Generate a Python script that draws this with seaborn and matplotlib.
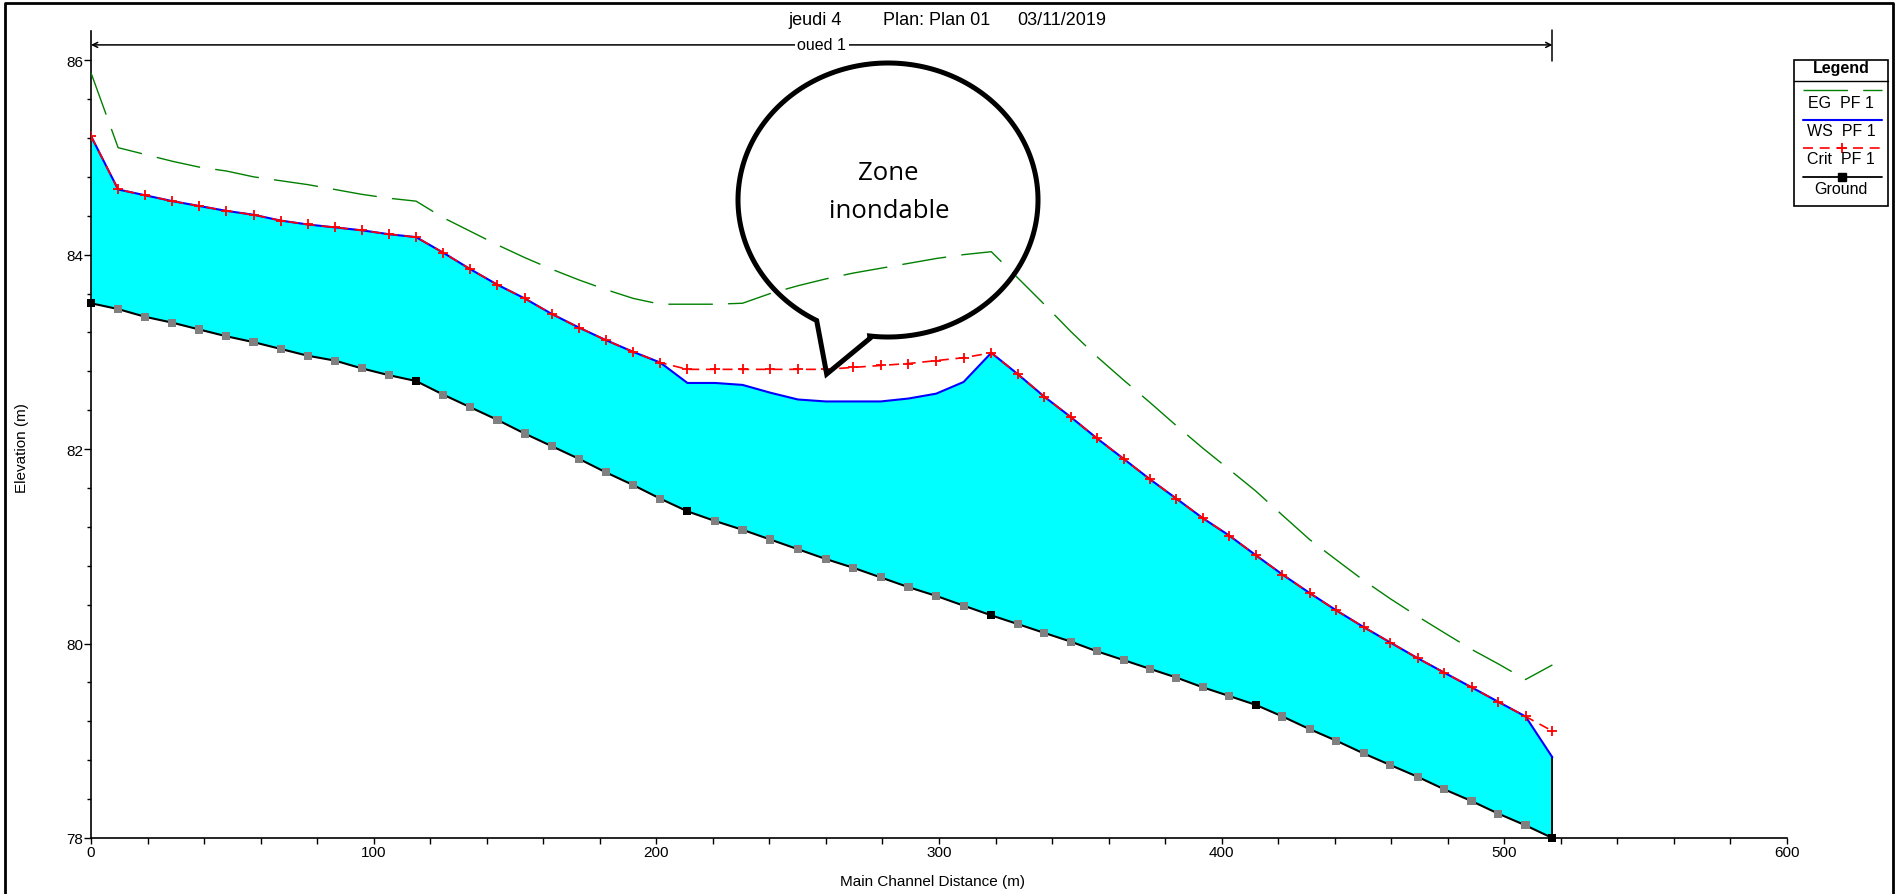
import numpy as np
import pandas as pd
import matplotlib
matplotlib.use("Agg")
import matplotlib.pyplot as plt
import seaborn as sns
from matplotlib.lines import Line2D
from matplotlib.patches import Rectangle, Polygon
from matplotlib.ticker import MultipleLocator

# ---------------- data ----------------
stations = [0.0, 9.6, 19.2, 28.8, 38.3, 47.9, 57.5, 67.1, 76.7, 86.3, 95.8, 105.4, 115.0,
            124.6, 134.2, 143.8, 153.4, 163.0, 172.6, 182.2, 191.8, 201.4, 211.0,
            220.8, 230.5, 240.3, 250.1, 259.9, 269.6, 279.4, 289.2, 299.0, 308.7, 318.5,
            327.9, 337.2, 346.6, 355.9, 365.3, 374.6, 384.0, 393.3, 402.7, 412.0,
            421.5, 431.1, 440.6, 450.2, 459.7, 469.3, 478.8, 488.4, 497.9, 507.5, 517.0]

ground = [83.50, 83.44, 83.36, 83.30, 83.23, 83.16, 83.10, 83.03, 82.96, 82.91, 82.83, 82.76, 82.70,
          82.56, 82.43, 82.30, 82.16, 82.03, 81.90, 81.76, 81.63, 81.49, 81.36,
          81.26, 81.17, 81.07, 80.97, 80.87, 80.78, 80.68, 80.58, 80.49, 80.39, 80.29,
          80.20, 80.11, 80.02, 79.92, 79.83, 79.74, 79.65, 79.55, 79.46, 79.37,
          79.25, 79.12, 79.00, 78.87, 78.75, 78.63, 78.50, 78.38, 78.25, 78.13, 78.00]

ws_pf1 = [85.22, 84.67, 84.61, 84.55, 84.50, 84.45, 84.41, 84.35, 84.31, 84.28, 84.25, 84.21, 84.18,
          84.02, 83.85, 83.69, 83.55, 83.39, 83.25, 83.12, 83.00, 82.89, 82.68,
          82.68, 82.66, 82.58, 82.51, 82.49, 82.49, 82.49, 82.52, 82.57, 82.69, 82.99,
          82.77, 82.54, 82.33, 82.11, 81.90, 81.69, 81.49, 81.29, 81.11, 80.91,
          80.71, 80.52, 80.34, 80.17, 80.01, 79.85, 79.70, 79.55, 79.40, 79.25, 78.83]

crit_pf1 = [85.22, 84.67, 84.61, 84.55, 84.50, 84.45, 84.41, 84.35, 84.31, 84.28, 84.25, 84.21, 84.18,
            84.02, 83.85, 83.69, 83.55, 83.39, 83.25, 83.12, 83.00, 82.89, 82.82,
            82.82, 82.82, 82.82, 82.82, 82.82, 82.84, 82.86, 82.88, 82.91, 82.94, 82.99,
            82.77, 82.54, 82.33, 82.11, 81.90, 81.69, 81.49, 81.29, 81.11, 80.91,
            80.71, 80.52, 80.34, 80.17, 80.01, 79.85, 79.70, 79.55, 79.40, 79.25, 79.10]

eg_pf1 = [85.87, 85.10, 85.03, 84.96, 84.90, 84.86, 84.80, 84.76, 84.72, 84.67, 84.62, 84.58, 84.55,
          84.38, 84.24, 84.10, 83.97, 83.85, 83.74, 83.64, 83.55, 83.49, 83.49,
          83.49, 83.50, 83.60, 83.68, 83.75, 83.81, 83.86, 83.91, 83.96, 84.00, 84.03,
          83.76, 83.49, 83.21, 82.95, 82.71, 82.48, 82.24, 82.01, 81.79, 81.57,
          81.32, 81.07, 80.86, 80.65, 80.46, 80.28, 80.11, 79.94, 79.79, 79.63, 79.78]

# 'xs' = surveyed cross section (black marker), 'int' = interpolated section (grey marker)
section_kind = (["xs"] + ["int"] * 11 + ["xs"] + ["int"] * 9 + ["xs"] + ["int"] * 10 + ["xs"]
                + ["int"] * 9 + ["xs"] + ["int"] * 10 + ["xs"])

title_parts = ["jeudi 4", "Plan: Plan 01", "03/11/2019"]
reach_name = "oued 1"
legend_labels = ["EG  PF 1", "WS  PF 1", "Crit  PF 1", "Ground"]
x_label = "Main Channel Distance (m)"
y_label = "Elevation (m)"
bubble_lines = ["Zone", "inondable"]

df = pd.DataFrame({"station": stations, "ground": ground, "ws": ws_pf1,
                   "crit": crit_pf1, "eg": eg_pf1, "kind": section_kind})

# ---------------- style ----------------
sns.set_theme(style="white")
plt.rcParams["font.family"] = ["Liberation Sans", "DejaVu Sans"]

W, H = 1900, 895
fig = plt.figure(figsize=(W / 100, H / 100), dpi=100)
ax = fig.add_axes([91 / W, (H - 839) / H, 1696 / W, 807 / H])

C_EG, C_WS, C_CRIT, C_FILL = "#008000", "#0000FF", "#FF0000", "#00FFFF"
EG_DASH = (0, (32, 11))
CRIT_DASH = (0, (6, 4))

ax.fill_between(df["station"], df["ground"], df["ws"], color=C_FILL, linewidth=0, zorder=1)

sns.lineplot(data=df, x="station", y="ground", color="black", linewidth=1.5, sort=False,
             errorbar=None, legend=False, ax=ax, zorder=3)
ax.plot([df["station"].iloc[-1]] * 2, [df["ground"].iloc[-1], df["ws"].iloc[-1]],
        color="black", linewidth=1.3, zorder=3)
sns.scatterplot(data=df[df["kind"] == "int"], x="station", y="ground", marker="s", s=34,
                color="#808080", edgecolor="none", legend=False, ax=ax, zorder=4)
sns.scatterplot(data=df[df["kind"] == "xs"], x="station", y="ground", marker="s", s=34,
                color="black", edgecolor="none", legend=False, ax=ax, zorder=4, clip_on=False)

sns.lineplot(data=df, x="station", y="ws", color=C_WS, linewidth=1.5, sort=False,
             errorbar=None, legend=False, ax=ax, zorder=5)
sns.lineplot(data=df, x="station", y="eg", color=C_EG, linewidth=1.0, sort=False,
             errorbar=None, legend=False, ax=ax, zorder=6, linestyle=EG_DASH)
sns.lineplot(data=df, x="station", y="crit", color=C_CRIT, linewidth=1.2, sort=False,
             errorbar=None, legend=False, ax=ax, zorder=7, linestyle=CRIT_DASH,
             marker="+", markersize=7.5, markeredgewidth=1.3, markeredgecolor=C_CRIT)

# ---------------- axes ----------------
ax.set_xlim(0, 600)
ax.set_ylim(78, 86.3)
ax.xaxis.set_major_locator(MultipleLocator(100))
ax.xaxis.set_minor_locator(MultipleLocator(20))
ax.yaxis.set_major_locator(MultipleLocator(2))
ax.yaxis.set_minor_locator(MultipleLocator(0.4))
for s in ["top", "right"]:
    ax.spines[s].set_visible(False)
for s in ["left", "bottom"]:
    ax.spines[s].set_color("black")
    ax.spines[s].set_linewidth(1.2)
ax.tick_params(which="both", direction="out", color="black", labelcolor="black",
               labelsize=11, bottom=True, left=True)
ax.tick_params(axis="y", which="major", length=5, width=1, pad=0.5)
ax.tick_params(axis="y", which="minor", length=2.7, width=1)
ax.tick_params(axis="x", which="both", length=4, width=1, pad=1)
ax.set_xlabel("")
ax.set_ylabel("")
ax.grid(False)

def fx(px):
    return px / W

def fy(py):
    return 1 - py / H

fig.text(fx(933), fy(882), x_label, ha="center", va="center", fontsize=11, color="black")
fig.text(fx(22), fy(448), y_label, ha="center", va="center", rotation=90, fontsize=11, color="black")

# title
for txt, cx in zip(title_parts, [815.5, 937, 1062]):
    fig.text(fx(cx), fy(25), txt, ha="center", va="baseline", fontsize=13, color="black")

# reach arrow
y_arrow = 86.157
x0, x1 = df["station"].iloc[0], df["station"].iloc[-1]
ax.annotate("", xy=(x0, y_arrow), xytext=(x1, y_arrow),
            arrowprops=dict(arrowstyle="<->", color="black", lw=1.1, shrinkA=0, shrinkB=0,
                            mutation_scale=9),
            annotation_clip=False, zorder=8)
ax.plot([x1, x1], [85.99, 86.31], color="black", linewidth=1.1, clip_on=False, zorder=8)
ax.text((x0 + x1) / 2, y_arrow, reach_name, ha="center", va="center", fontsize=11.5,
        color="black", zorder=9,
        bbox=dict(boxstyle="square,pad=0.15", facecolor="white", edgecolor="none"))

# ---------------- legend box ----------------
fig.add_artist(Rectangle((fx(1794), fy(207)), (1888 - 1794) / W, (207 - 61) / H,
                         transform=fig.transFigure, facecolor="white", edgecolor="black",
                         linewidth=1.2, zorder=10))
fig.add_artist(Line2D([fx(1794), fx(1888)], [fy(82)] * 2, transform=fig.transFigure,
                      color="black", linewidth=1.0, zorder=11))
fig.text(fx(1841), fy(69), "Legend", ha="center", va="center", fontsize=11.5,
         fontweight="bold", color="black", zorder=11)
lx = [fx(1803), fx(1882)]
fig.add_artist(Line2D(lx, [fy(91)] * 2, transform=fig.transFigure, color=C_EG,
                      linewidth=1.0, linestyle=EG_DASH, zorder=11))
fig.add_artist(Line2D(lx, [fy(121)] * 2, transform=fig.transFigure, color=C_WS,
                      linewidth=1.5, zorder=11))
fig.add_artist(Line2D(lx, [fy(149)] * 2, transform=fig.transFigure, color=C_CRIT,
                      linewidth=1.2, linestyle=CRIT_DASH, zorder=11))
fig.add_artist(Line2D([fx(1842)], [fy(149)], transform=fig.transFigure, color=C_CRIT,
                      marker="+", markersize=7.5, markeredgewidth=1.3, linestyle="none", zorder=12))
fig.add_artist(Line2D(lx, [fy(178)] * 2, transform=fig.transFigure, color="black",
                      linewidth=1.3, zorder=11))
fig.add_artist(Line2D([fx(1842)], [fy(178)], transform=fig.transFigure, color="black",
                      marker="s", markersize=6, linestyle="none", zorder=12))
for lab, py in zip(legend_labels, [103, 132, 160, 190]):
    fig.text(fx(1841), fy(py), lab, ha="center", va="center", fontsize=11.5,
             color="black", zorder=12)

# ---------------- speech bubble ----------------
cx, cy, a, b = 888, H - 201, 150, 137
t = np.radians(np.linspace(263, 601.6, 300))
bx = cx + a * np.cos(t)
by = cy + b * np.sin(t)
tail_x = [826.7, 870]
tail_y = [H - 375, H - 339.3]
px = np.concatenate([bx, tail_x]) / W
py = np.concatenate([by, tail_y]) / H
fig.add_artist(Polygon(np.column_stack([px, py]), closed=True, transform=fig.transFigure,
                       facecolor="none", edgecolor="black", linewidth=3.6,
                       joinstyle="miter", zorder=9))
fig.text(fx(888.5), fy(173), bubble_lines[0], ha="center", va="center", fontsize=18.5,
         family=["Open Sans", "DejaVu Sans"], color="black", zorder=10)
fig.text(fx(889), fy(211), bubble_lines[1], ha="center", va="center", fontsize=18.5,
         family=["Open Sans", "DejaVu Sans"], color="black", zorder=10)

# outer frame
fig.add_artist(Line2D([fx(5), fx(5), fx(1893), fx(1893)], [0, fy(4), fy(4), 0],
                      transform=fig.transFigure, color="black", linewidth=2.0, zorder=20))

fig.savefig("out.png", dpi=100, facecolor="white")
